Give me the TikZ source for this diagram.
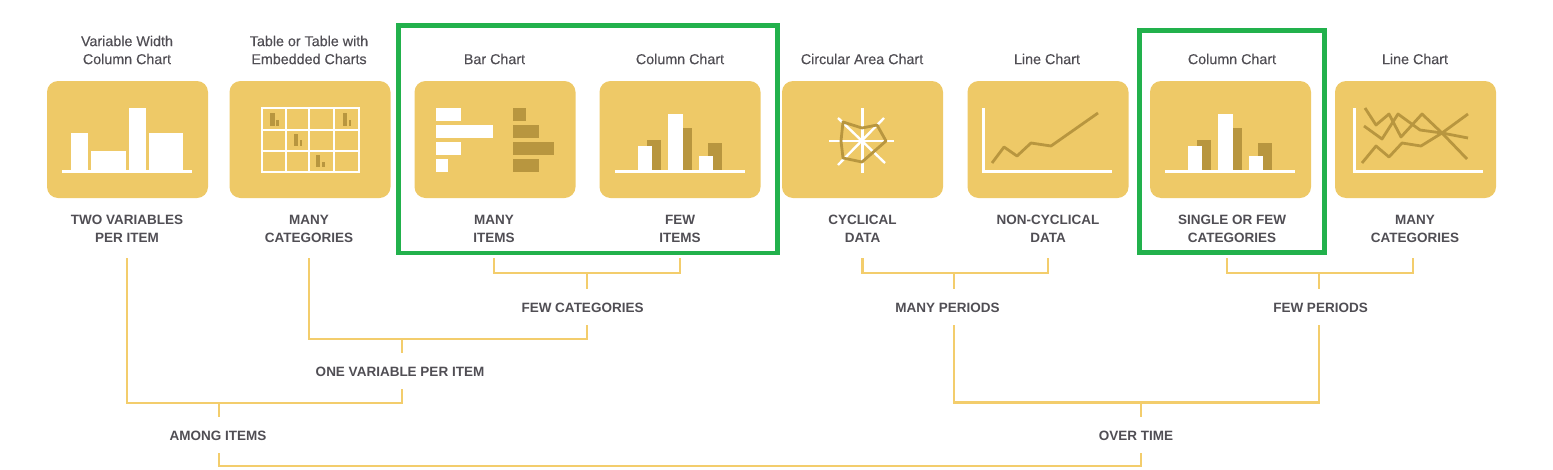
\documentclass[tikz,border=0pt]{standalone}
\usepackage{fontspec}
\setmainfont{Liberation Sans}
\newfontfamily\titlefont[FakeBold=0.35]{Liberation Sans}
\usepackage{tikz}
\usetikzlibrary{positioning}
\definecolor{gdGold}{HTML}{EEC967}
\definecolor{gdDark}{HTML}{B8963F}
\definecolor{gdLink}{HTML}{F3CD6C}
\definecolor{gdText}{HTML}{504E54}
\definecolor{gdGreen}{HTML}{22B14C}
\tikzset{
    panel/.style={rectangle, rounded corners=11pt, fill=gdGold, minimum width=161pt, minimum height=117pt, inner sep=0pt},
    title/.style={font=\titlefont\fontsize{14.3}{18}\selectfont, text=gdText, align=center, inner sep=0pt},
    tag/.style={font=\fontsize{13.5}{18}\selectfont\bfseries, text=gdText, align=center, inner sep=0pt, minimum height=58pt},
    branch/.style={font=\fontsize{13.5}{18}\selectfont\bfseries, text=gdText, align=center, inner sep=0pt, minimum height=36pt, text height=11pt, text depth=0pt},
    link/.style={draw=gdLink, line width=2.5pt, line join=miter},
    frame/.style={draw=gdGreen, line width=4.6pt},
    axis/.style={draw=white, line width=3pt},
    grid line/.style={draw=white, line width=2.4pt},
    trace/.style={draw=gdDark, line width=2.8pt, line join=round},
    mark white/.style={fill=white},
    mark dark/.style={fill=gdDark}
}
% Column icon, used twice
\newcommand{\columnicon}[2]{
  \begin{scope}[shift={(#1,#2)}]
    \fill[mark dark] (47,59) rectangle (61,89);
    \fill[mark dark] (83,47) rectangle (92,89);
    \fill[mark dark] (108,62) rectangle (122,89);
    \fill[mark white] (38,65) rectangle (52,89);
    \fill[mark white] (68,33) rectangle (83,89);
    \fill[mark white] (99,75) rectangle (113,89);
    \draw[axis] (15,90) -- (145,90);
  \end{scope}
}
\begin{document}
\begin{tikzpicture}[x=1pt,y=-1pt]
  \path[use as bounding box] (0,0) rectangle (1553,469);

  % Panels
  \node[panel] (varPanel) at (127.5,139.5) {};
  \node[panel] (tablePanel) at (310,139.5) {};
  \node[panel] (barPanel) at (495,139.5) {};
  \node[panel] (colPanel) at (680,139.5) {};
  \node[panel] (circPanel) at (862.5,139.5) {};
  \node[panel] (linePanel) at (1048,139.5) {};
  \node[panel] (singlePanel) at (1230.5,139.5) {};
  \node[panel] (multiPanel) at (1415.5,139.5) {};

  % Chart names
  \node[title] (varTitle) at (127,50) {Variable Width\\Column Chart};
  \node[title] (tableTitle) at (309,50) {Table or Table with\\Embedded Charts};
  \node[title] (barTitle) at (494.5,59) {Bar Chart};
  \node[title] (colTitle) at (680,59) {Column Chart};
  \node[title] (circTitle) at (862,59) {Circular Area Chart};
  \node[title] (lineTitle) at (1047,59) {Line Chart};
  \node[title] (singleTitle) at (1232,59) {Column Chart};
  \node[title] (multiTitle) at (1415,59) {Line Chart};

  % Labels under the panels
  \node[tag] (varTag) at (127,229) {TWO VARIABLES\\PER ITEM};
  \node[tag] (tableTag) at (309,229) {MANY\\CATEGORIES};
  \node[tag] (barTag) at (494,229) {MANY\\ITEMS};
  \node[tag] (colTag) at (680,229) {FEW\\ITEMS};
  \node[tag] (circTag) at (862.5,229) {CYCLICAL\\DATA};
  \node[tag] (lineTag) at (1048,229) {NON-CYCLICAL\\DATA};
  \node[tag] (singleTag) at (1232,229) {SINGLE OR FEW\\CATEGORIES};
  \node[tag] (multiTag) at (1415,229) {MANY\\CATEGORIES};

  % Labels on the tree
  \node[branch] (fewCat) at (582.5,307) {FEW CATEGORIES};
  \node[branch] (manyPer) at (947.5,307) {MANY PERIODS};
  \node[branch] (fewPer) at (1320.5,307) {FEW PERIODS};
  \node[branch] (oneVar) at (400,371) {ONE VARIABLE PER ITEM};
  \node[branch] (among) at (218,435) {AMONG ITEMS};
  \node[branch] (overTime) at (1136,435) {OVER TIME};

  % Junctions
  \coordinate (fewCatJoin) at (587,273);
  \coordinate (manyPerJoin) at (954,273);
  \coordinate (fewPerJoin) at (1319,273);
  \coordinate (oneVarJoin) at (402,339);
  \coordinate (overJoin) at (1141,402.5);
  \coordinate (amongJoin) at (219,403);
  \coordinate (rootJoin) at (680,466);

  % Brackets
  \draw[link] (barTag.south) |- (fewCatJoin) -| (colTag.south);
  \draw[link] (fewCatJoin) -- (fewCatJoin |- fewCat.north);
  \draw[link] (circTag.south) |- (manyPerJoin) -| (lineTag.south);
  \draw[link] (manyPerJoin) -- (manyPerJoin |- manyPer.north);
  \draw[link] (singleTag.south -| 1227,0) |- (fewPerJoin) -| (multiTag.south -| 1413,0);
  \draw[link] (fewPerJoin) -- (fewPerJoin |- fewPer.north);
  \draw[link] (tableTag.south) |- (oneVarJoin) -| (fewCat.south -| fewCatJoin);
  \draw[link] (oneVarJoin) -- (oneVarJoin |- oneVar.north);
  \draw[link] (varTag.south) |- (amongJoin) -| (oneVar.south -| oneVarJoin);
  \draw[link] (amongJoin) -- (amongJoin |- among.north);
  \draw[link] (manyPer.south -| manyPerJoin) |- (overJoin) -| (fewPer.south -| fewPerJoin);
  \draw[link] (overJoin) -- (overJoin |- overTime.north);
  \draw[link] (among.south -| amongJoin) |- (rootJoin) -| (overTime.south -| overJoin);

  % Green frames
  \draw[frame] (398.5,25.5) rectangle (777.5,253);
  \draw[frame] (1139.5,30.5) rectangle (1324.5,252.5);

  % Variable width columns
  \fill[mark white] (71,133) rectangle (88,170);
  \fill[mark white] (91,151) rectangle (126,170);
  \fill[mark white] (129,108) rectangle (146,170);
  \fill[mark white] (149,133) rectangle (183,170);
  \draw[axis] (62,171) -- (192,171);

  % Table with small charts
  \draw[grid line] (262,108) rectangle (359,172);
  \draw[grid line] (286,108) -- (286,172);
  \draw[grid line] (309,108) -- (309,172);
  \draw[grid line] (334,108) -- (334,172);
  \draw[grid line] (262,130) -- (359,130);
  \draw[grid line] (262,151) -- (359,151);
  \fill[mark dark] (270,113) rectangle (274.5,126);
  \fill[mark dark] (276,120) rectangle (278.5,126);
  \fill[mark dark] (343,113) rectangle (346.5,126);
  \fill[mark dark] (348.5,120) rectangle (351,126);
  \fill[mark dark] (293.5,134) rectangle (298,146);
  \fill[mark dark] (299.5,140) rectangle (302,146);
  \fill[mark dark] (316,155) rectangle (320,167);
  \fill[mark dark] (322,162) rectangle (325,167);

  % Bars
  \fill[mark white] (436,108) rectangle (461,121);
  \fill[mark white] (436,125) rectangle (493,138);
  \fill[mark white] (436,142) rectangle (461,155);
  \fill[mark white] (436,159) rectangle (448,172);
  \fill[mark dark] (513,108) rectangle (526,121);
  \fill[mark dark] (513,125) rectangle (539,138);
  \fill[mark dark] (513,142) rectangle (554,155);
  \fill[mark dark] (513,159) rectangle (539,172);

  % Columns
  \columnicon{600}{81}
  \columnicon{1150}{81}

  % Radar
  \draw[grid line] (862.5,108) -- (862.5,173);
  \draw[grid line] (829,141) -- (894,141);
  \draw[grid line] (838,118) -- (885,163);
  \draw[grid line] (884,118) -- (838,165);
  \draw[trace] (843,122) -- (862,128) -- (877,125) -- (886,141) -- (862,162) -- (843,158) -- (841,141) -- cycle;

  % Single line
  \draw[axis] (983,108) -- (983,171) -- (1112,171);
  \draw[trace] (992,163) -- (1004,147) -- (1017,156) -- (1031,143) -- (1051,146) -- (1098,113);

  % Many lines
  \draw[axis] (1354,108) -- (1354,171) -- (1483,171);
  \draw[trace] (1362,163) -- (1376,146) -- (1389,157) -- (1402,143) -- (1421,146) -- (1442,133) -- (1468,114);
  \draw[trace] (1365,108) -- (1376,125) -- (1389,114) -- (1401,137) -- (1422,114) -- (1442,133) -- (1467,159);
  \draw[trace] (1364,126) -- (1382,139) -- (1398,114) -- (1420,130) -- (1442,133) -- (1468,138);
\end{tikzpicture}
\end{document}
